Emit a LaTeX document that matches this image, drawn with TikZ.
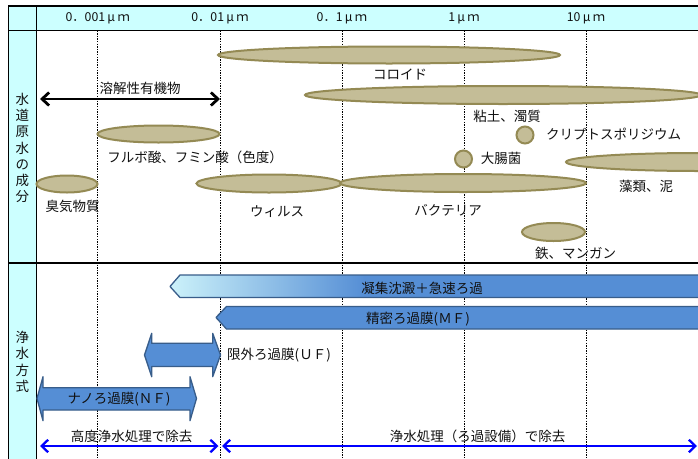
\documentclass[tikz,border=0pt]{standalone}
\usepackage{fontspec}
\setmainfont{Noto Sans CJK JP}
\usetikzlibrary{arrows.meta,shapes.geometric}
\definecolor{tanfill}{HTML}{C4BD97}
\definecolor{tanline}{HTML}{948A54}
\definecolor{cyanbg}{HTML}{CCFFFF}
\definecolor{bluefill}{HTML}{558ED5}
\definecolor{blueline}{HTML}{385D8A}
\definecolor{gradstart}{HTML}{CCF2FA}
\definecolor{txt}{HTML}{111111}
\newcommand\lblfont{\fontsize{13.5}{16}\selectfont}
\newcommand\hdrfont{\fontsize{12.3}{14}\selectfont}
\newcommand\mum{\makebox[1em]{μ}ｍ}
\tikzset{
  blob/.style={ellipse, draw=tanline, fill=tanfill, line width=2pt, inner sep=0pt},
  dot/.style={circle, draw=tanline, fill=tanfill, line width=2pt, inner sep=0pt, minimum size=17pt},
  lbl/.style={font=\lblfont, inner sep=0pt, text=txt},
  hdr/.style={font=\hdrfont, inner sep=0pt, text=txt},
  vlbl/.style={font=\lblfont, inner sep=0pt, text=txt, align=center},
  frame/.style={line width=1.3pt, black},
  scaleline/.style={line width=0.9pt, black, dash pattern=on 1.4pt off 1.2pt},
  bandshape/.style={draw=blueline, line width=1.3pt, line join=round},
  blkarrow/.style={line width=2.8pt, black, arrows={Straight Barb[length=7pt,width=13pt]-Straight Barb[length=7pt,width=13pt]}},
  bluearrow/.style={line width=2.3pt, blue, arrows={Straight Barb[length=6.5pt,width=12.5pt]-Straight Barb[length=6.5pt,width=12.5pt]}}
}
\begin{document}
\begin{tikzpicture}[x=1pt,y=-1pt]
\useasboundingbox (0,0) rectangle (698,458);
\clip (0,0) rectangle (698,458);
% backgrounds
\fill[white] (0,0) rectangle (698,458);
\fill[cyanbg] (8.5,6) rectangle (710,30.5);
\fill[cyanbg] (8.5,30.5) rectangle (36.5,470);
% scale lines
\foreach \xx in {97.7,220,342,464,586}
  \draw[scaleline] (\xx,30.5) -- (\xx,470);
% frame
\draw[frame] (8.5,470) -- (8.5,6) -- (710,6);
\draw[frame] (8.5,30.5) -- (710,30.5);
\draw[frame] (36.5,6) -- (36.5,470);
\draw[frame] (8.5,263) -- (710,263);
% header
\node[hdr] (h1) at (97.7,18.5) {0．001\mum};
\node[hdr] (h2) at (220,18.5) {0．01\mum};
\node[hdr] (h3) at (342,18.5) {0．1\mum};
\node[hdr] (h4) at (464,18.5) {1\mum};
\node[hdr] (h5) at (586,18.5) {10\mum};
% left column
\node[vlbl, font=\fontsize{13.5}{16.3}\selectfont] (raw) at (22.5,148) {水\\道\\原\\水\\の\\成\\分};
\node[vlbl, font=\fontsize{13.5}{16.5}\selectfont] (meth) at (22.5,362) {浄\\水\\方\\式};
% raw water components
\node[blob, minimum width=342pt, minimum height=17pt] (colloid) at (389,55) {};
\node[lbl] (colloidT) at (400,75) {コロイド};
\node[blob, minimum width=396pt, minimum height=18pt] (clay) at (503,95) {};
\node[lbl] (clayT) at (507,116) {粘土、濁質};
\coordinate (solL) at (40,99);
\coordinate (solR) at (220,99);
\draw[blkarrow] (solL) -- (solR);
\node[lbl] (solT) at (140,88) {溶解性有機物};
\node[blob, minimum width=122pt, minimum height=17pt] (fulvic) at (158.5,134) {};
\node[lbl] (fulvicT) at (195,157) {フルボ酸、フミン酸（色度）};
\node[blob, minimum width=61pt, minimum height=17pt] (odor) at (67,184) {};
\node[lbl] (odorT) at (72.5,206) {臭気物質};
\node[blob, minimum width=145pt, minimum height=18pt] (virus) at (269,183.5) {};
\node[lbl] (virusT) at (277,212) {ウィルス};
\node[blob, minimum width=246pt, minimum height=18pt] (bact) at (463,183) {};
\node[lbl] (bactT) at (448,210) {バクテリア};
\node[dot] (ecoli) at (463.5,159) {};
\node[lbl] (ecoliT) at (501,158) {大腸菌};
\node[dot] (crypto) at (525,135) {};
\node[lbl] (cryptoT) at (613.5,134) {クリプトスポリジウム};
\node[blob, minimum width=264pt, minimum height=18pt] (algae) at (698,162) {};
\node[lbl] (algaeT) at (646,186) {藻類、泥};
\node[blob, minimum width=63pt, minimum height=18pt] (iron) at (553.5,232) {};
\node[lbl] (ironT) at (575.5,253) {鉄、マンガン};
% treatment methods
\begin{scope}
  \clip (170,286.5) -- (180,275) -- (720,275) -- (720,297.5) -- (180,297.5) -- cycle;
  \shade[left color=gradstart, right color=bluefill] (170,275) rectangle (365,297.5);
  \fill[bluefill] (364,275) rectangle (720,297.5);
\end{scope}
\draw[bandshape] (170,286.5) -- (180,275) -- (720,275) -- (720,297.5) -- (180,297.5) -- cycle;
\node[lbl] (coagT) at (422,288) {凝集沈澱＋急速ろ過};
\draw[bandshape, fill=bluefill] (216,317.5) -- (226.5,306.5) -- (720,306.5) -- (720,329) -- (226.5,329) -- cycle;
\node[lbl] (mfT) at (418,319) {精密ろ過膜(ＭＦ)};
\draw[bandshape, fill=bluefill] (144.5,355) -- (151.7,333.3) -- (151.7,343.3) -- (212.7,343.3) -- (212.7,333.3)
  -- (220.5,355) -- (212.7,376.7) -- (212.7,366.5) -- (151.7,366.5) -- (151.7,376.7) -- cycle;
\node[lbl, anchor=west] (ufT) at (227,355.5) {限外ろ過膜(ＵＦ)};
\draw[bandshape, fill=bluefill] (37,398.5) -- (43,376.7) -- (43,387.7) -- (190,387.7) -- (190,376.7)
  -- (196.5,398.5) -- (190,420.7) -- (190,410) -- (43,410) -- (43,420.7) -- cycle;
\node[lbl] (nfT) at (119,399) {ナノろ過膜(ＮＦ)};
% removal arrows
\coordinate (advL) at (40,446);
\coordinate (advR) at (218.5,446);
\draw[bluearrow] (advL) -- (advR);
\node[lbl] (advT) at (131.7,436) {高度浄水処理で除去};
\coordinate (stdL) at (222,446);
\coordinate (stdR) at (697,446);
\draw[bluearrow] (stdL) -- (stdR);
\node[lbl] (stdT) at (477.5,436) {浄水処理（ろ過設備）で除去};
\end{tikzpicture}
\end{document}
